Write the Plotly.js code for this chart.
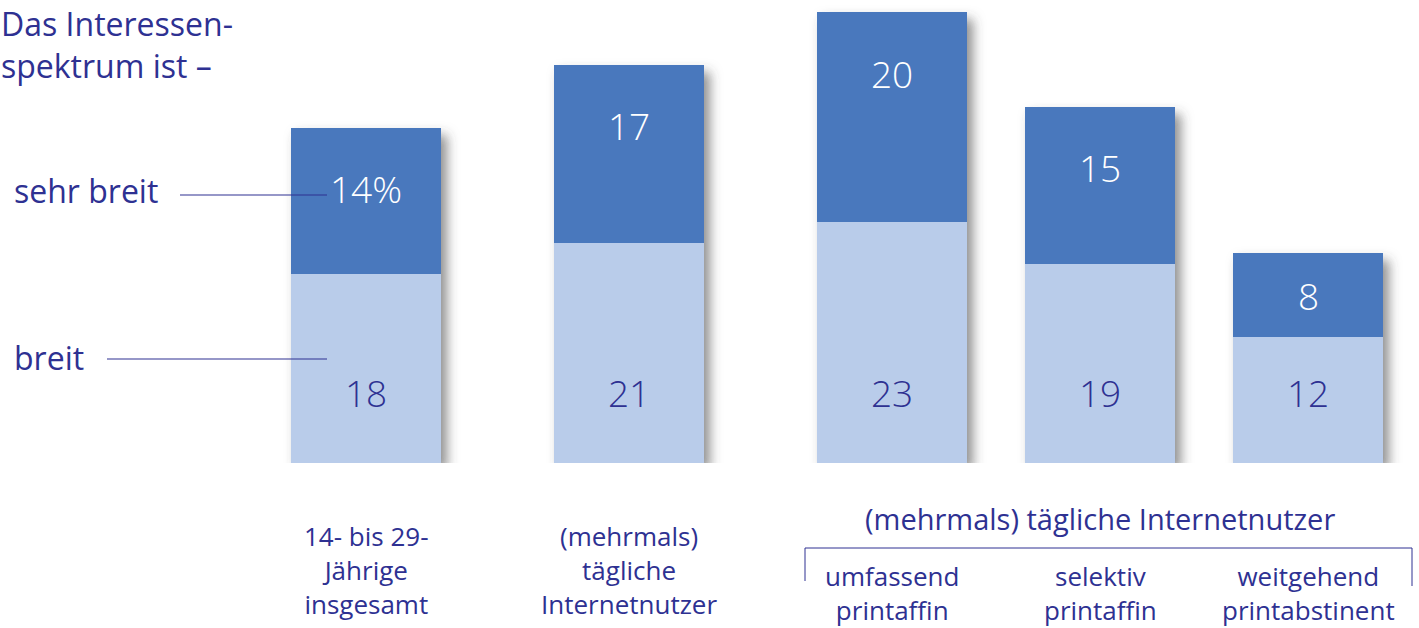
<!DOCTYPE html>
<html>
<head>
<meta charset="utf-8">
<script src="https://cdn.plot.ly/plotly-3.0.1.min.js"></script>
<style>
html,body{margin:0;padding:0;background:#fff;}
#chart{width:1419px;height:628px;}
</style>
</head>
<body>
<div id="chart"></div>
<script>
// ---- data ----
const groupAKeys = ['gesamt', 'internet'];
const groupALabels = [['14- bis 29-', 'Jährige', 'insgesamt'], ['(mehrmals)', 'tägliche', 'Internetnutzer']];
const groupABreit = [18, 21];
const groupASehrBreit = [14, 17];

const groupBKeys = ['umfassend', 'selektiv', 'weitgehend'];
const groupBLabels = [['umfassend', 'printaffin'], ['selektiv', 'printaffin'], ['weitgehend', 'printabstinent']];
const groupBBreit = [23, 19, 12];
const groupBSehrBreit = [20, 15, 8];
const groupBHeader = '(mehrmals) tägliche Internetnutzer';

const seriesNames = ['breit', 'sehr breit'];
const titleLines = ['Das Interessen-', 'spektrum ist –'];

// ---- style ----
const W = 1419, H = 628, PB = 463;
const DARK = '#4878BD', LIGHT = '#B9CCEA', NAVY = '#2E3192';
const FONT = '"Open Sans", Lato, sans-serif';
const WT_NUM = 300, WT_TXT = 400;
const xp = px => px / W;
const yp = py => (PB - py) / PB;

function traces(keys, breit, sehr, xa, width) {
  return [
    {type: 'bar', x: keys, y: breit, name: seriesNames[0], xaxis: xa, yaxis: 'y',
     marker: {color: LIGHT, line: {width: 0}}, width: width, hoverinfo: 'none', showlegend: false},
    {type: 'bar', x: keys, y: sehr, name: seriesNames[1], xaxis: xa, yaxis: 'y',
     marker: {color: DARK, line: {width: 0}}, width: width, hoverinfo: 'none', showlegend: false}
  ];
}

const data = [
  ...traces(groupAKeys, groupABreit, groupASehrBreit, 'x', 150 / 263),
  ...traces(groupBKeys, groupBBreit, groupBSehrBreit, 'x2', 150 / 208)
];

const annotations = [];
function numLabels(keys, breit, sehr, xref, first) {
  keys.forEach((k, i) => {
    const top = breit[i] + sehr[i];
    annotations.push({xref: xref, yref: 'y', x: k, y: 6.7, text: String(breit[i]),
      showarrow: false, font: {family: FONT, size: 37, color: NAVY, weight: WT_NUM}});
    const yd = Math.max(breit[i] + sehr[i] * 0.5, top - 5.8);
    annotations.push({xref: xref, yref: 'y', x: k, y: yd,
      text: (first && i === 0) ? sehr[i] + '%' : String(sehr[i]),
      showarrow: false, font: {family: FONT, size: 37, color: '#ffffff', weight: WT_NUM}});
  });
}
numLabels(groupAKeys, groupABreit, groupASehrBreit, 'x', true);
numLabels(groupBKeys, groupBBreit, groupBSehrBreit, 'x2', false);

function catLabels(keys, labels, xref, centerY, size) {
  keys.forEach((k, i) => {
    annotations.push({xref: xref, yref: 'paper', x: k, y: yp(centerY), yanchor: 'middle',
      text: labels[i].join('<br>'), showarrow: false, align: 'center', borderpad: 0,
      font: {family: FONT, size: size, color: NAVY, weight: WT_TXT}});
  });
}
catLabels(groupAKeys, groupALabels, 'x', 570, 26);
catLabels(groupBKeys, groupBLabels, 'x2', 593, 26);

annotations.push({xref: 'x2', yref: 'paper', x: groupBKeys[1], y: yp(518), yanchor: 'middle',
  text: groupBHeader, showarrow: false, font: {family: FONT, size: 29, color: NAVY, weight: WT_TXT}});

annotations.push({xref: 'paper', yref: 'paper', x: 0, y: yp(44), xanchor: 'left', yanchor: 'middle',
  align: 'left', text: titleLines.join('<br>'), showarrow: false, borderpad: 0,
  font: {family: FONT, size: 32, color: NAVY, weight: WT_TXT}});
annotations.push({xref: 'paper', yref: 'paper', x: xp(12), y: yp(190), xanchor: 'left', yanchor: 'middle',
  text: seriesNames[1], showarrow: false, font: {family: FONT, size: 32, color: NAVY, weight: WT_TXT}});
annotations.push({xref: 'paper', yref: 'paper', x: xp(12), y: yp(357), xanchor: 'left', yanchor: 'middle',
  text: seriesNames[0], showarrow: false, font: {family: FONT, size: 32, color: NAVY, weight: WT_TXT}});

const shapes = [
  {type: 'line', xref: 'paper', yref: 'paper', x0: xp(180), x1: xp(327), y0: yp(195), y1: yp(195),
   line: {color: NAVY, width: 1.2}, layer: 'above'},
  {type: 'line', xref: 'paper', yref: 'paper', x0: xp(107), x1: xp(327), y0: yp(359), y1: yp(359),
   line: {color: NAVY, width: 1.2}, layer: 'above'},
  {type: 'path', xref: 'paper', yref: 'paper',
   path: `M ${xp(805)},${yp(581)} L ${xp(805)},${yp(548)} L ${xp(1412)},${yp(548)} L ${xp(1412)},${yp(586)}`,
   line: {color: NAVY, width: 1}}
];

const axisCommon = {type: 'category', showgrid: false, zeroline: false, showline: false,
  showticklabels: false, ticks: '', fixedrange: true};

const layout = {
  width: W, height: H,
  margin: {l: 0, r: 0, t: 0, b: H - PB, pad: 0},
  paper_bgcolor: '#ffffff', plot_bgcolor: '#ffffff',
  barmode: 'stack', bargap: 0,
  showlegend: false,
  xaxis: Object.assign({}, axisCommon, {domain: [234.5 / W, 760.5 / W], range: [-0.5, 1.5]}),
  xaxis2: Object.assign({}, axisCommon, {domain: [788 / W, 1412 / W], range: [-0.5, 2.5], anchor: 'y'}),
  yaxis: {range: [0, PB / 10.48], showgrid: false, zeroline: false, showline: false,
    showticklabels: false, ticks: '', fixedrange: true},
  annotations: annotations,
  shapes: shapes,
  font: {family: FONT, color: NAVY}
};

Plotly.newPlot('chart', data, layout, {displayModeBar: false, staticPlot: true}).then(gd => {
  const svg = gd.querySelector('.main-svg');
  const ns = 'http://www.w3.org/2000/svg';
  let defs = svg.querySelector('defs');
  if (!defs) { defs = document.createElementNS(ns, 'defs'); svg.insertBefore(defs, svg.firstChild); }
  const f = document.createElementNS(ns, 'filter');
  f.setAttribute('id', 'barShadow');
  f.setAttribute('x', '-10%'); f.setAttribute('y', '-10%');
  f.setAttribute('width', '130%'); f.setAttribute('height', '130%');
  const ds = document.createElementNS(ns, 'feDropShadow');
  ds.setAttribute('dx', '6'); ds.setAttribute('dy', '7');
  ds.setAttribute('stdDeviation', '6');
  ds.setAttribute('flood-color', '#444444'); ds.setAttribute('flood-opacity', '0.6');
  f.appendChild(ds);
  defs.appendChild(f);
  gd.querySelectorAll('.barlayer').forEach(g => g.setAttribute('filter', 'url(#barShadow)'));
});
</script>
</body>
</html>
